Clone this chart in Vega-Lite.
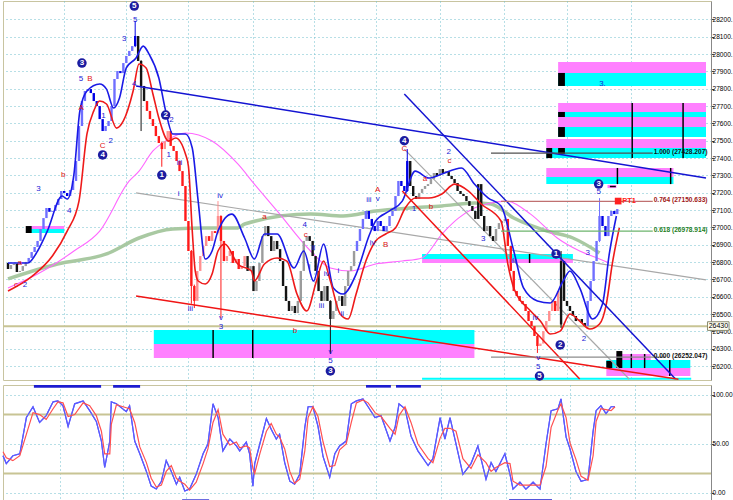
{
"$schema":"https://vega.github.io/schema/vega-lite/v6.json",
"padding":0,
"background":"white",
"spacing":2,
"config":{"view":{"stroke":"#c8c4a0"},"axis":{"labelFont":"Liberation Sans","labelOverlap":false,"labelSeparation":0},"text":{"font":"Liberation Sans"}},
"datasets":{
"candles":[
{"i":0,"o":26795,"c":26760,"t":"k"},{"i":1,"o":26760,"c":26783,"t":"g"},{"i":2,"o":26783,"c":26790,"t":"g"},{"i":3,"o":26790,"c":26743,"t":"k"},{"i":4,"o":26743,"c":26749,"t":"g"},{"i":5,"o":26749,"c":26777,"t":"g"},{"i":6,"o":26777,"c":26801,"t":"g"},{"i":7,"o":26801,"c":26824,"t":"b"},{"i":8,"o":26824,"c":26858,"t":"b"},{"i":9,"o":26858,"c":26887,"t":"b"},
{"i":10,"o":26887,"c":26922,"t":"b"},{"i":11,"o":26922,"c":26991,"t":"b"},{"i":12,"o":26991,"c":27054,"t":"b"},{"i":13,"o":27054,"c":27112,"t":"b"},{"i":14,"o":27112,"c":27090,"t":"B"},{"i":15,"o":27090,"c":27095,"t":"b"},{"i":16,"o":27095,"c":27129,"t":"b"},{"i":17,"o":27129,"c":27164,"t":"b"},{"i":18,"o":27164,"c":27210,"t":"b"},{"i":19,"o":27210,"c":27199,"t":"B"},
{"i":20,"o":27199,"c":27181,"t":"B"},{"i":21,"o":27181,"c":27216,"t":"b"},{"i":22,"o":27216,"c":27268,"t":"b"},{"i":23,"o":27268,"c":27383,"t":"b"},{"i":24,"o":27383,"c":27585,"t":"b"},{"i":25,"o":27585,"c":27729,"t":"b"},{"i":26,"o":27729,"c":27787,"t":"b"},{"i":27,"o":27787,"c":27798,"t":"b"},{"i":28,"o":27798,"c":27775,"t":"B"},{"i":29,"o":27775,"c":27729,"t":"B"},
{"i":30,"o":27729,"c":27700,"t":"B"},{"i":31,"o":27700,"c":27625,"t":"B"},{"i":32,"o":27625,"c":27556,"t":"B"},{"i":33,"o":27556,"c":27585,"t":"b"},{"i":34,"o":27585,"c":27614,"t":"b"},{"i":35,"o":27614,"c":27700,"t":"b"},{"i":36,"o":27700,"c":27856,"t":"b"},{"i":37,"o":27856,"c":27902,"t":"b"},{"i":38,"o":27902,"c":27890,"t":"B"},{"i":39,"o":27890,"c":27948,"t":"b"},
{"i":40,"o":27948,"c":27989,"t":"b"},{"i":41,"o":27989,"c":28018,"t":"b"},{"i":42,"o":28018,"c":28046,"t":"b"},{"i":43,"o":28046,"c":28104,"t":"B","h":28191,"l":28040},{"i":44,"o":28104,"c":27960,"t":"k"},{"i":45,"o":27960,"c":27816,"t":"k","h":27965,"l":27556},{"i":46,"o":27816,"c":27729,"t":"k"},{"i":47,"o":27729,"c":27672,"t":"r"},{"i":48,"o":27672,"c":27625,"t":"r"},{"i":49,"o":27625,"c":27585,"t":"r"},
{"i":50,"o":27585,"c":27527,"t":"r"},{"i":51,"o":27527,"c":27487,"t":"r"},{"i":52,"o":27487,"c":27452,"t":"r","h":27495,"l":27350},{"i":53,"o":27452,"c":27498,"t":"p"},{"i":54,"o":27498,"c":27556,"t":"p"},{"i":55,"o":27556,"c":27470,"t":"r"},{"i":56,"o":27470,"c":27441,"t":"r"},{"i":57,"o":27441,"c":27383,"t":"r"},{"i":58,"o":27383,"c":27325,"t":"r"},{"i":59,"o":27325,"c":27239,"t":"r"},
{"i":60,"o":27239,"c":27037,"t":"r"},{"i":61,"o":27037,"c":26864,"t":"r"},{"i":62,"o":26864,"c":26662,"t":"r","h":26870,"l":26560},{"i":63,"o":26662,"c":26576,"t":"r","h":26670,"l":26535},{"i":64,"o":26576,"c":26749,"t":"p"},{"i":65,"o":26749,"c":26835,"t":"p"},{"i":66,"o":26835,"c":26893,"t":"p"},{"i":67,"o":26893,"c":26950,"t":"p"},{"i":68,"o":26950,"c":26922,"t":"r"},{"i":69,"o":26922,"c":26979,"t":"p"},
{"i":70,"o":26979,"c":26968,"t":"r"},{"i":71,"o":26968,"c":27066,"t":"p","h":27152,"l":26960},{"i":72,"o":27066,"c":26922,"t":"r","h":27070,"l":26478},{"i":73,"o":26922,"c":26806,"t":"r"},{"i":74,"o":26806,"c":26835,"t":"p"},{"i":75,"o":26835,"c":26864,"t":"p"},{"i":76,"o":26864,"c":26795,"t":"r"},{"i":77,"o":26795,"c":26818,"t":"p"},{"i":78,"o":26818,"c":26760,"t":"r"},{"i":79,"o":26760,"c":26777,"t":"p"},
{"i":80,"o":26777,"c":26835,"t":"p"},{"i":81,"o":26835,"c":26749,"t":"k"},{"i":82,"o":26749,"c":26777,"t":"g"},{"i":83,"o":26777,"c":26633,"t":"k"},{"i":84,"o":26633,"c":26691,"t":"g"},{"i":85,"o":26691,"c":26795,"t":"g"},{"i":86,"o":26795,"c":26950,"t":"g"},{"i":87,"o":26950,"c":27008,"t":"g"},{"i":88,"o":27008,"c":26950,"t":"k"},{"i":89,"o":26950,"c":26864,"t":"k"},
{"i":90,"o":26864,"c":26922,"t":"g"},{"i":91,"o":26922,"c":26875,"t":"k"},{"i":92,"o":26875,"c":26806,"t":"k"},{"i":93,"o":26806,"c":26662,"t":"k"},{"i":94,"o":26662,"c":26576,"t":"k"},{"i":95,"o":26576,"c":26518,"t":"k"},{"i":96,"o":26518,"c":26547,"t":"g"},{"i":97,"o":26547,"c":26506,"t":"k"},{"i":98,"o":26506,"c":26576,"t":"g"},{"i":99,"o":26576,"c":26749,"t":"g"},
{"i":100,"o":26749,"c":26922,"t":"g"},{"i":101,"o":26922,"c":26950,"t":"g"},{"i":102,"o":26950,"c":26922,"t":"k"},{"i":103,"o":26922,"c":26835,"t":"k"},{"i":104,"o":26835,"c":26749,"t":"k"},{"i":105,"o":26749,"c":26633,"t":"k"},{"i":106,"o":26633,"c":26576,"t":"k"},{"i":107,"o":26576,"c":26662,"t":"g"},{"i":108,"o":26662,"c":26576,"t":"k"},{"i":109,"o":26576,"c":26472,"t":"k","h":26580,"l":26270},
{"i":110,"o":26472,"c":26518,"t":"g"},{"i":111,"o":26518,"c":26576,"t":"g"},{"i":112,"o":26576,"c":26604,"t":"g"},{"i":113,"o":26604,"c":26547,"t":"k"},{"i":114,"o":26547,"c":26662,"t":"g"},{"i":115,"o":26662,"c":26749,"t":"g"},{"i":116,"o":26749,"c":26777,"t":"g"},{"i":117,"o":26777,"c":26864,"t":"g"},{"i":118,"o":26864,"c":26922,"t":"b"},{"i":119,"o":26922,"c":26991,"t":"b"},
{"i":120,"o":26991,"c":27049,"t":"b"},{"i":121,"o":27049,"c":27095,"t":"b"},{"i":122,"o":27095,"c":27049,"t":"B"},{"i":123,"o":27049,"c":27008,"t":"B"},{"i":124,"o":27008,"c":26979,"t":"B"},{"i":125,"o":26979,"c":27037,"t":"b"},{"i":126,"o":27037,"c":27008,"t":"B"},{"i":127,"o":27008,"c":26979,"t":"B"},{"i":128,"o":26979,"c":27008,"t":"b"},{"i":129,"o":27008,"c":27066,"t":"b"},
{"i":130,"o":27066,"c":27095,"t":"b"},{"i":131,"o":27095,"c":27181,"t":"b"},{"i":132,"o":27181,"c":27268,"t":"b"},{"i":133,"o":27268,"c":27239,"t":"B"},{"i":134,"o":27239,"c":27210,"t":"B"},{"i":135,"o":27210,"c":27383,"t":"B","h":27452,"l":27205},{"i":136,"o":27383,"c":27239,"t":"k"},{"i":137,"o":27239,"c":27181,"t":"k"},{"i":138,"o":27181,"c":27164,"t":"k"},{"i":139,"o":27164,"c":27199,"t":"g"},
{"i":140,"o":27199,"c":27222,"t":"g"},{"i":141,"o":27222,"c":27239,"t":"g"},{"i":142,"o":27239,"c":27250,"t":"g"},{"i":143,"o":27250,"c":27279,"t":"g"},{"i":144,"o":27279,"c":27314,"t":"g"},{"i":145,"o":27314,"c":27297,"t":"k"},{"i":146,"o":27297,"c":27337,"t":"g"},{"i":147,"o":27337,"c":27314,"t":"k"},{"i":148,"o":27314,"c":27325,"t":"g"},{"i":149,"o":27325,"c":27297,"t":"k"},
{"i":150,"o":27297,"c":27279,"t":"k"},{"i":151,"o":27279,"c":27256,"t":"k"},{"i":152,"o":27256,"c":27210,"t":"k"},{"i":153,"o":27210,"c":27193,"t":"k"},{"i":154,"o":27193,"c":27181,"t":"k"},{"i":155,"o":27181,"c":27152,"t":"k"},{"i":156,"o":27152,"c":27124,"t":"k"},{"i":157,"o":27124,"c":27095,"t":"k"},{"i":158,"o":27095,"c":27049,"t":"k"},{"i":159,"o":27049,"c":27250,"t":"k"},
{"i":160,"o":27250,"c":27066,"t":"k"},{"i":161,"o":27066,"c":26979,"t":"k"},{"i":162,"o":26979,"c":27008,"t":"g"},{"i":163,"o":27008,"c":26950,"t":"k"},{"i":164,"o":26950,"c":26922,"t":"k"},{"i":165,"o":26922,"c":26991,"t":"g"},{"i":166,"o":26991,"c":27025,"t":"g"},{"i":167,"o":27025,"c":27037,"t":"g"},{"i":168,"o":27037,"c":27049,"t":"g"},{"i":169,"o":27049,"c":26893,"t":"r"},
{"i":170,"o":26893,"c":26749,"t":"r"},{"i":171,"o":26749,"c":26633,"t":"r"},{"i":172,"o":26633,"c":26604,"t":"r"},{"i":173,"o":26604,"c":26576,"t":"r"},{"i":174,"o":26576,"c":26558,"t":"r"},{"i":175,"o":26558,"c":26518,"t":"r"},{"i":176,"o":26518,"c":26460,"t":"r"},{"i":177,"o":26460,"c":26431,"t":"r"},{"i":178,"o":26431,"c":26374,"t":"r"},{"i":179,"o":26374,"c":26316,"t":"r","h":26380,"l":26276},
{"i":180,"o":26316,"c":26330,"t":"p"},{"i":181,"o":26330,"c":26402,"t":"p"},{"i":182,"o":26402,"c":26460,"t":"p"},{"i":183,"o":26460,"c":26518,"t":"p"},{"i":184,"o":26518,"c":26576,"t":"p"},{"i":185,"o":26576,"c":26518,"t":"r"},{"i":186,"o":26518,"c":26633,"t":"p"},{"i":187,"o":26440,"c":26806,"t":"k","h":26864,"l":26420},{"i":188,"o":26806,"c":26576,"t":"k"},{"i":189,"o":26576,"c":26547,"t":"k"},
{"i":190,"o":26547,"c":26518,"t":"k"},{"i":191,"o":26518,"c":26489,"t":"k"},{"i":192,"o":26489,"c":26460,"t":"k"},{"i":193,"o":26460,"c":26472,"t":"g"},{"i":194,"o":26472,"c":26449,"t":"k"},{"i":195,"o":26449,"c":26431,"t":"k"},{"i":196,"o":26431,"c":26576,"t":"b"},{"i":197,"o":26576,"c":26691,"t":"b"},{"i":198,"o":26691,"c":26806,"t":"b"},{"i":199,"o":26806,"c":26922,"t":"b"},
{"i":200,"o":26922,"c":27066,"t":"b","h":27169,"l":26915},{"i":201,"o":27066,"c":27008,"t":"B"},{"i":202,"o":27008,"c":26950,"t":"B"},{"i":203,"o":26950,"c":27066,"t":"b"},{"i":204,"o":27066,"c":27095,"t":"b"},{"i":205,"o":27095,"c":27077,"t":"B"},{"i":206,"o":27077,"c":27106,"t":"b"}
],
"maB":[{"i":0,"p":26795},{"i":6.7,"p":26795},{"i":10,"p":26864},{"i":13.3,"p":26979},{"i":18.3,"p":27181},{"i":20,"p":27164},{"i":22.3,"p":27308},{"i":24.3,"p":27672},{"i":26.7,"p":27787},{"i":31,"p":27827},{"i":33.3,"p":27798},{"i":35.7,"p":27689},{"i":37.7,"p":27747},{"i":40,"p":27920},{"i":43.3,"p":27977},{"i":45.7,"p":28046},{"i":47.7,"p":28000},{"i":51,"p":27862},{"i":53.3,"p":27672},{"i":55.7,"p":27539},{"i":60,"p":27539},{"i":62.3,"p":27458},{"i":64.3,"p":27152},{"i":66.7,"p":26818},{"i":69,"p":26864},{"i":71,"p":26979},{"i":75.7,"p":27077},{"i":80,"p":26939},{"i":83.3,"p":26818},{"i":86.7,"p":26962},{"i":91,"p":26962},{"i":96.7,"p":26766},{"i":100,"p":26864},{"i":103.3,"p":26691},{"i":106.7,"p":26904},{"i":110,"p":26651},{"i":113.3,"p":26616},{"i":117.7,"p":26731},{"i":122.3,"p":26962},{"i":124.3,"p":27037},{"i":129,"p":27095},{"i":133.3,"p":27152},{"i":137.7,"p":27325},{"i":142.3,"p":27285},{"i":146.7,"p":27308},{"i":153.3,"p":27343},{"i":157.7,"p":27250},{"i":162.3,"p":27170},{"i":166.7,"p":27124},{"i":171,"p":26864},{"i":174.3,"p":26651},{"i":179,"p":26576},{"i":183.3,"p":26564},{"i":187.7,"p":26691},{"i":190,"p":26749},{"i":193.3,"p":26651},{"i":197.7,"p":26472},{"i":201,"p":26558},{"i":203.3,"p":26847},{"i":205.7,"p":27066}],
"maR":[{"i":0,"p":26633},{"i":8.3,"p":26720},{"i":15,"p":26835},{"i":20,"p":26979},{"i":24,"p":27152},{"i":26.7,"p":27539},{"i":29,"p":27672},{"i":31,"p":27729},{"i":33.3,"p":27712},{"i":36.7,"p":27573},{"i":39,"p":27614},{"i":42.3,"p":27787},{"i":44.3,"p":27943},{"i":46.7,"p":27920},{"i":49,"p":27770},{"i":51,"p":27631},{"i":54.3,"p":27498},{"i":56.7,"p":27516},{"i":60,"p":27423},{"i":61,"p":27354},{"i":62.3,"p":26979},{"i":63.3,"p":26749},{"i":64.3,"p":26691},{"i":66.7,"p":26674},{"i":69,"p":26731},{"i":71,"p":26864},{"i":73.3,"p":26904},{"i":77.7,"p":26789},{"i":82.3,"p":26749},{"i":83.3,"p":26691},{"i":86.7,"p":26789},{"i":91,"p":26824},{"i":94.3,"p":26806},{"i":97.7,"p":26616},{"i":101,"p":26518},{"i":104.3,"p":26691},{"i":106.7,"p":26806},{"i":109,"p":26691},{"i":112.3,"p":26501},{"i":115,"p":26472},{"i":117.7,"p":26616},{"i":121,"p":26806},{"i":124.3,"p":26922},{"i":127.7,"p":26962},{"i":131,"p":26997},{"i":134.3,"p":27112},{"i":137.7,"p":27170},{"i":142.3,"p":27170},{"i":146.7,"p":27193},{"i":151,"p":27250},{"i":155.7,"p":27210},{"i":160,"p":27135},{"i":166.7,"p":27037},{"i":169,"p":26789},{"i":171,"p":26651},{"i":176.7,"p":26518},{"i":180,"p":26460},{"i":183.3,"p":26385},{"i":186.7,"p":26402},{"i":190,"p":26501},{"i":193.3,"p":26460},{"i":196.7,"p":26414},{"i":200,"p":26443},{"i":202.3,"p":26558},{"i":204.3,"p":26789},{"i":206.7,"p":26997}],
"maP":[{"i":0,"p":26651},{"i":10,"p":26731},{"i":22.3,"p":26864},{"i":31,"p":26979},{"i":41,"p":27268},{"i":44.3,"p":27325},{"i":49,"p":27441},{"i":53.3,"p":27498},{"i":60,"p":27545},{"i":69,"p":27498},{"i":77.7,"p":27366},{"i":83.3,"p":27250},{"i":91,"p":27095},{"i":102.3,"p":26864},{"i":109,"p":26766},{"i":115.7,"p":26749},{"i":124.3,"p":26789},{"i":133.3,"p":26806},{"i":140,"p":26824},{"i":146.7,"p":26962},{"i":152.3,"p":27054},{"i":157.7,"p":27112},{"i":163.3,"p":27141},{"i":168.3,"p":27152},{"i":176.7,"p":27077},{"i":185.7,"p":26939},{"i":193.3,"p":26864},{"i":200,"p":26818},{"i":203.3,"p":26795}],
"maG":[{"i":0,"p":26703},{"i":16.7,"p":26789},{"i":33.3,"p":26847},{"i":44.3,"p":26939},{"i":55.7,"p":26991},{"i":66.7,"p":26997},{"i":77.7,"p":26997},{"i":80,"p":27020},{"i":102.3,"p":27077},{"i":113.3,"p":27066},{"i":124.3,"p":27095},{"i":135.7,"p":27112},{"i":146.7,"p":27124},{"i":157.7,"p":27141},{"i":163.3,"p":27135},{"i":171,"p":27054},{"i":182.3,"p":26979},{"i":191,"p":26939},{"i":200,"p":26853}],
"zones":[
{"x1":6.7,"x2":19,"p1":27008,"p2":26991,"z":"mg"},{"x1":6.7,"x2":19,"p1":26991,"p2":26968,"z":"cy"},{"x1":6,"x2":8,"p1":27008,"p2":26968,"z":"bk"},
{"x1":49.3,"x2":157.7,"p1":26408,"p2":26328,"z":"cy"},{"x1":49.3,"x2":157.7,"p1":26328,"p2":26247,"z":"mg"},{"x1":69.1,"x2":69.6,"p1":26408,"p2":26247,"z":"bk"},{"x1":82.5,"x2":83,"p1":26408,"p2":26247,"z":"bk"},
{"x1":140,"x2":191,"p1":26847,"p2":26818,"z":"cy"},{"x1":140,"x2":191,"p1":26818,"p2":26795,"z":"mg"},{"x1":176.1,"x2":176.6,"p1":26847,"p2":26795,"z":"bk"},
{"x1":186,"x2":236,"p1":27954,"p2":27891,"z":"mg"},{"x1":186,"x2":236,"p1":27891,"p2":27816,"z":"cy"},{"x1":186,"x2":188.3,"p1":27891,"p2":27816,"z":"bk"},
{"x1":186,"x2":236,"p1":27718,"p2":27666,"z":"mg"},{"x1":186,"x2":236,"p1":27666,"p2":27637,"z":"cy"},{"x1":186,"x2":236,"p1":27637,"p2":27579,"z":"mg"},{"x1":186,"x2":236,"p1":27579,"p2":27522,"z":"cy"},{"x1":186,"x2":188.3,"p1":27666,"p2":27637,"z":"bk"},{"x1":186,"x2":188.3,"p1":27579,"p2":27522,"z":"bk"},
{"x1":182,"x2":236,"p1":27510,"p2":27458,"z":"mg"},{"x1":182,"x2":236,"p1":27458,"p2":27400,"z":"cy"},{"x1":182,"x2":184,"p1":27458,"p2":27400,"z":"bk"},{"x1":186,"x2":188.3,"p1":27458,"p2":27423,"z":"bk"},
{"x1":210.8,"x2":211.3,"p1":27718,"p2":27400,"z":"bk"},{"x1":228,"x2":228.5,"p1":27718,"p2":27400,"z":"bk"},
{"x1":182,"x2":225,"p1":27343,"p2":27291,"z":"mg"},{"x1":182,"x2":225,"p1":27291,"p2":27250,"z":"cy"},{"x1":205.8,"x2":206.3,"p1":27343,"p2":27250,"z":"bk"},{"x1":223.8,"x2":224.3,"p1":27343,"p2":27250,"z":"bk"},{"x1":202.7,"x2":205.7,"p1":27245,"p2":27227,"z":"mg"},{"x1":203.5,"x2":205.5,"p1":27240,"p2":27232,"z":"bk"},
{"x1":205.7,"x2":217.3,"p1":26270,"p2":26235,"z":"mg"},{"x1":202.3,"x2":230.7,"p1":26235,"p2":26189,"z":"cy"},{"x1":202.3,"x2":230.7,"p1":26189,"p2":26143,"z":"mg"},{"x1":205.7,"x2":207.7,"p1":26287,"p2":26189,"z":"bk"},{"x1":202.3,"x2":204.3,"p1":26230,"p2":26189,"z":"bk"},{"x1":210.5,"x2":211,"p1":26270,"p2":26189,"z":"bk"},{"x1":215,"x2":215.5,"p1":26270,"p2":26189,"z":"bk"},{"x1":223.5,"x2":224,"p1":26235,"p2":26143,"z":"bk"},
{"x1":140,"x2":231,"p1":26133,"p2":26121,"z":"cy"}
],
"trend":[
{"x1":43.3,"p1":27816,"x2":236,"p2":27285,"s":"b"},
{"x1":134,"p1":27770,"x2":225.7,"p2":26126,"s":"b"},
{"x1":43.3,"p1":26604,"x2":226.7,"p2":26124,"s":"r"},
{"x1":133.3,"p1":27210,"x2":193.3,"p2":26126,"s":"r"},
{"x1":43.3,"p1":27199,"x2":236,"p2":26697,"s":"g"},
{"x1":134,"p1":27452,"x2":210,"p2":26126,"s":"g"}
],
"fib":[
{"x1":163.3,"x2":218,"tx":218.3,"p":27428.207,"s":"1.000","lbl":"1.000 (27428.207)"},
{"x1":166.7,"x2":218,"tx":218.3,"p":27150.633,"s":"0.764","lbl":"0.764 (27150.633)"},
{"x1":166.7,"x2":218,"tx":218.3,"p":26978.914,"s":"0.618","lbl":"0.618 (26978.914)"},
{"x1":163.3,"x2":222.3,"tx":218.3,"p":26252.047,"s":"0.000","lbl":"0.000 (26252.047)"}
],
"lb":[{"i":24.7,"p":27856,"t":"5"},{"i":32.3,"p":27643,"t":"1"},{"i":34.7,"p":27498,"t":"2"},{"i":39.3,"p":28087,"t":"3"},{"i":43,"p":28196,"t":"5"},{"i":42.7,"p":27827,"t":"4"},{"i":55.3,"p":27620,"t":"2"},{"i":54.3,"p":27418,"t":"1"},{"i":58,"p":27372,"t":"iii"},{"i":57.7,"p":27193,"t":"i"},{"i":71.7,"p":27181,"t":"iv"},{"i":61.7,"p":26530,"t":"iii"},{"i":72,"p":26476,"t":"v"},{"i":72,"p":26424,"t":"3"},{"i":10.3,"p":27222,"t":"3"},{"i":20.7,"p":27095,"t":"4"},{"i":5.7,"p":26668,"t":"2"},{"i":100.3,"p":27012,"t":"4"},{"i":103.3,"p":26881,"t":"ii"},{"i":102,"p":26772,"t":"i"},{"i":106,"p":26547,"t":"iii"},{"i":107.7,"p":26731,"t":"iv"},{"i":111.7,"p":26749,"t":"i"},{"i":113,"p":26501,"t":"ii"},{"i":109,"p":26284,"t":"v"},{"i":109,"p":26232,"t":"5"},{"i":122,"p":27158,"t":"iii"},{"i":125,"p":27162,"t":"v"},{"i":123.3,"p":26910,"t":"iv"},{"i":137.3,"p":27106,"t":"1"},{"i":149,"p":27434,"t":"2"},{"i":160.7,"p":26933,"t":"3"},{"i":171,"p":26806,"t":"iii"},{"i":178.3,"p":26478,"t":"iv"},{"i":179.3,"p":26245,"t":"v"},{"i":179.3,"p":26194,"t":"5"},{"i":194.7,"p":26356,"t":"2"},{"i":196,"p":26853,"t":"3"},{"i":199.7,"p":27204,"t":"5"},{"i":201,"p":27827,"t":"3."}],
"lr":[{"i":27.7,"p":27856,"t":"B"},{"i":24.7,"p":27689,"t":"A"},{"i":32,"p":27470,"t":"C"},{"i":18.7,"p":27302,"t":"b"},{"i":4,"p":26795,"t":"a"},{"i":2.7,"p":26668,"t":"c"},{"i":86.7,"p":27060,"t":"a"},{"i":97,"p":26402,"t":"b"},{"i":100.7,"p":26958,"t":"c"},{"i":125,"p":27214,"t":"A"},{"i":127.7,"p":26899,"t":"B"},{"i":134,"p":27450,"t":"C"},{"i":141,"p":27279,"t":"a"},{"i":143,"p":27118,"t":"b"},{"i":149.3,"p":27382,"t":"c"}],
"circ":[{"i":25,"p":27948,"t":"3"},{"i":32,"p":27418,"t":"4"},{"i":42.7,"p":28277,"t":"5"},{"i":53.3,"p":27648,"t":"2"},{"i":52,"p":27302,"t":"1"},{"i":109,"p":26172,"t":"3"},{"i":134,"p":27500,"t":"4"},{"i":185.3,"p":26847,"t":"1"},{"i":186.7,"p":26322,"t":"2"},{"i":179.7,"p":26143,"t":"5"},{"i":199.7,"p":27250,"t":"3"}],
"pt":[{"i":206.3,"p":27152,"t":"PT1"}],
"cur":[{"i":236.9,"p":26430,"t":"26430"}],
"curbox":[{"x1":236.5,"x2":243.8,"p1":26456,"p2":26406}],
"stoch":[{"i":0,"k":38,"d":42},{"i":1.1,"k":30,"d":36},{"i":3.3,"k":38,"d":33},{"i":5.6,"k":40,"d":38},{"i":7.8,"k":77,"d":60},{"i":10,"k":88,"d":82},{"i":12.2,"k":72,"d":80},{"i":14.4,"k":79,"d":75},{"i":16.7,"k":93,"d":86},{"i":18.3,"k":94,"d":93},{"i":20,"k":89,"d":92},{"i":21.7,"k":68,"d":78},{"i":23.9,"k":91,"d":80},{"i":26.7,"k":94,"d":92},{"i":28.9,"k":84,"d":89},{"i":31.1,"k":73,"d":79},{"i":32.8,"k":53,"d":63},{"i":33.9,"k":26,"d":40},{"i":35.6,"k":53,"d":40},{"i":36.1,"k":93,"d":70},{"i":37.8,"k":91,"d":90},{"i":41.1,"k":83,"d":87},{"i":42.2,"k":89,"d":86},{"i":43.9,"k":53,"d":72},{"i":45.6,"k":40,"d":47},{"i":47.8,"k":22,"d":31},{"i":49.4,"k":7,"d":15},{"i":51.1,"k":4,"d":6},{"i":52.8,"k":12,"d":8},{"i":54.4,"k":33,"d":22},{"i":56.1,"k":22,"d":28},{"i":57.8,"k":9,"d":15},{"i":58.9,"k":16,"d":12},{"i":60.6,"k":2,"d":9},{"i":62.2,"k":4,"d":3},{"i":64.4,"k":19,"d":11},{"i":66.7,"k":40,"d":30},{"i":68.3,"k":50,"d":45},{"i":70,"k":91,"d":72},{"i":71.7,"k":77,"d":85},{"i":73.3,"k":43,"d":60},{"i":75.6,"k":55,"d":49},{"i":77.8,"k":48,"d":52},{"i":78.9,"k":43,"d":46},{"i":81.1,"k":52,"d":48},{"i":82.2,"k":40,"d":46},{"i":83.3,"k":7,"d":25},{"i":83.9,"k":30,"d":20},{"i":85.6,"k":50,"d":40},{"i":87.8,"k":76,"d":63},{"i":89.4,"k":65,"d":71},{"i":91.1,"k":55,"d":60},{"i":92.2,"k":60,"d":57},{"i":93.9,"k":31,"d":45},{"i":95.6,"k":12,"d":22},{"i":97.2,"k":9,"d":10},{"i":98.9,"k":19,"d":14},{"i":100.6,"k":67,"d":43},{"i":101.7,"k":88,"d":77},{"i":103.3,"k":88,"d":88},{"i":105,"k":68,"d":78},{"i":106.7,"k":37,"d":52},{"i":108.9,"k":16,"d":27},{"i":110.6,"k":40,"d":28},{"i":112.2,"k":48,"d":44},{"i":114.4,"k":53,"d":50},{"i":116.1,"k":91,"d":72},{"i":117.8,"k":94,"d":92},{"i":120,"k":96,"d":95},{"i":121.7,"k":88,"d":92},{"i":124,"k":77,"d":82},{"i":126,"k":79,"d":78},{"i":129,"k":53,"d":66},{"i":130.7,"k":67,"d":60},{"i":132,"k":91,"d":79},{"i":134,"k":86,"d":88},{"i":136,"k":58,"d":72},{"i":138.3,"k":43,"d":50},{"i":141.7,"k":28,"d":35},{"i":143.3,"k":35,"d":31},{"i":145.7,"k":77,"d":56},{"i":147.3,"k":55,"d":66},{"i":149,"k":77,"d":66},{"i":151,"k":50,"d":63},{"i":153.3,"k":19,"d":35},{"i":156,"k":30,"d":25},{"i":158.3,"k":48,"d":39},{"i":161,"k":14,"d":31},{"i":162.7,"k":31,"d":22},{"i":164.3,"k":22,"d":26},{"i":167.3,"k":40,"d":31},{"i":169,"k":19,"d":30},{"i":170,"k":4,"d":12},{"i":172.3,"k":11,"d":8},{"i":174.3,"k":4,"d":8},{"i":176.7,"k":11,"d":8},{"i":179,"k":4,"d":8},{"i":181,"k":50,"d":27},{"i":182.7,"k":84,"d":67},{"i":185,"k":86,"d":85},{"i":186,"k":96,"d":91},{"i":187.7,"k":57,"d":77},{"i":189,"k":45,"d":51},{"i":191,"k":22,"d":34},{"i":192.7,"k":12,"d":17},{"i":195,"k":14,"d":13},{"i":196.7,"k":63,"d":38},{"i":197.7,"k":84,"d":73},{"i":199.3,"k":89,"d":86},{"i":201,"k":81,"d":85},{"i":202.7,"k":88,"d":84},{"i":204,"k":88,"d":88}],
"ind":[{"x1":10.3,"x2":32.7,"v1":107.5,"v2":110.2},{"x1":36.7,"x2":45.7,"v1":107.5,"v2":110.2},{"x1":121,"x2":129.3,"v1":107.5,"v2":110.2},{"x1":131,"x2":139.3,"v1":107.5,"v2":110.2},{"x1":59.7,"x2":68.7,"v1":-9.2,"v2":-6.5},{"x1":168.7,"x2":183,"v1":-9.2,"v2":-6.5}]
},
"vconcat":[
{
"width":708,"height":379,
"resolve":{"scale":{"color":"independent"}},
"layer":[
{"data":{"name":"zones"},"mark":{"type":"rect"},
 "encoding":{
  "x":{"field":"x1","type":"quantitative","title":null,"scale":{"domain":[0,236],"nice":false,"zero":false},
       "axis":{"orient":"bottom","values":[19,40,61,82.7,103.3,124.3,146,167.7,189,210.7],"labels":false,"ticks":false,"domain":false,"title":null,"grid":true,"gridDash":[1,3],"gridColor":"#6fbfcc"}},
  "x2":{"field":"x2"},
  "y":{"field":"p1","type":"quantitative","title":null,"scale":{"domain":[26120,28306],"nice":false,"zero":false},
       "axis":{"orient":"right","values":[26200,26300,26400,26500,26600,26700,26800,26900,27000,27100,27200,27300,27400,27500,27600,27700,27800,27900,28000,28100,28200],"format":"d","labelExpr":"datum.label + '.'","labelOverlap":false,"title":null,"grid":true,"gridDash":[1,3],"gridColor":"#6fbfcc","tickSize":3,"tickColor":"#444","domainColor":"#888","labelFontSize":6.6,"labelPadding":-2,"labelColor":"#000"}},
  "y2":{"field":"p2"},
  "color":{"field":"z","type":"nominal","legend":null,"scale":{"domain":["cy","mg","bk"],"range":["#00ffff","#ff80ff","#000000"]}}
 }},
{"data":{"values":[{"p":26430}]},"mark":{"type":"rule","color":"#c8c494","strokeWidth":2},
 "encoding":{"y":{"field":"p","type":"quantitative","title":null,"scale":{"domain":[26120,28306],"nice":false,"zero":false},
  "axis":{"orient":"right","values":[26200,26300,26400,26500,26600,26700,26800,26900,27000,27100,27200,27300,27400,27500,27600,27700,27800,27900,28000,28100,28200],"format":"d","labelExpr":"datum.label + '.'","labelOverlap":false,"title":null,"grid":true,"gridDash":[1,3],"gridColor":"#6fbfcc","tickSize":3,"tickColor":"#444","domainColor":"#888","labelFontSize":6.6,"labelPadding":-2,"labelColor":"#000"}}}},
{"data":{"name":"maG"},"mark":{"type":"line","color":"#a9c9a2","strokeWidth":3.5,"interpolate":"monotone"},
 "encoding":{"x":{"field":"i","type":"quantitative","title":null,"scale":{"domain":[0,236],"nice":false,"zero":false}},
  "y":{"field":"p","type":"quantitative","title":null,"scale":{"domain":[26120,28306],"nice":false,"zero":false},
  "axis":{"orient":"right","values":[26200,26300,26400,26500,26600,26700,26800,26900,27000,27100,27200,27300,27400,27500,27600,27700,27800,27900,28000,28100,28200],"format":"d","labelExpr":"datum.label + '.'","labelOverlap":false,"title":null,"grid":true,"gridDash":[1,3],"gridColor":"#6fbfcc","tickSize":3,"tickColor":"#444","domainColor":"#888","labelFontSize":6.6,"labelPadding":-2,"labelColor":"#000"}}}},
{"data":{"name":"maP"},"mark":{"type":"line","color":"#ff66ff","strokeWidth":1.1,"interpolate":"monotone"},
 "encoding":{"x":{"field":"i","type":"quantitative","title":null,"scale":{"domain":[0,236],"nice":false,"zero":false}},
  "y":{"field":"p","type":"quantitative","title":null,"scale":{"domain":[26120,28306],"nice":false,"zero":false},
  "axis":{"orient":"right","values":[26200,26300,26400,26500,26600,26700,26800,26900,27000,27100,27200,27300,27400,27500,27600,27700,27800,27900,28000,28100,28200],"format":"d","labelExpr":"datum.label + '.'","labelOverlap":false,"title":null,"grid":true,"gridDash":[1,3],"gridColor":"#6fbfcc","tickSize":3,"tickColor":"#444","domainColor":"#888","labelFontSize":6.6,"labelPadding":-2,"labelColor":"#000"}}}},
{"data":{"name":"trend"},"transform":[{"filter":"datum.s == 'g'"}],"mark":{"type":"rule","color":"#a8a8a8","strokeWidth":1.2},
 "encoding":{"x":{"field":"x1","type":"quantitative","title":null,"scale":{"domain":[0,236],"nice":false,"zero":false}},"x2":{"field":"x2"},
  "y":{"field":"p1","type":"quantitative","title":null,"scale":{"domain":[26120,28306],"nice":false,"zero":false},
  "axis":{"orient":"right","values":[26200,26300,26400,26500,26600,26700,26800,26900,27000,27100,27200,27300,27400,27500,27600,27700,27800,27900,28000,28100,28200],"format":"d","labelExpr":"datum.label + '.'","labelOverlap":false,"title":null,"grid":true,"gridDash":[1,3],"gridColor":"#6fbfcc","tickSize":3,"tickColor":"#444","domainColor":"#888","labelFontSize":6.6,"labelPadding":-2,"labelColor":"#000"}},"y2":{"field":"p2"}}},
{"data":{"name":"candles"},"transform":[{"filter":"isValid(datum.h)"}],"mark":{"type":"rule","strokeWidth":1},
 "encoding":{"x":{"field":"i","type":"quantitative","title":null,"scale":{"domain":[0,236],"nice":false,"zero":false}},
  "y":{"field":"l","type":"quantitative","title":null,"scale":{"domain":[26120,28306],"nice":false,"zero":false},
  "axis":{"orient":"right","values":[26200,26300,26400,26500,26600,26700,26800,26900,27000,27100,27200,27300,27400,27500,27600,27700,27800,27900,28000,28100,28200],"format":"d","labelExpr":"datum.label + '.'","labelOverlap":false,"title":null,"grid":true,"gridDash":[1,3],"gridColor":"#6fbfcc","tickSize":3,"tickColor":"#444","domainColor":"#888","labelFontSize":6.6,"labelPadding":-2,"labelColor":"#000"}},"y2":{"field":"h"},
  "color":{"field":"t","type":"nominal","legend":null,"scale":{"domain":["b","B","r","p","k","g"],"range":["#6f6fff","#0000e6","#ff1a1a","#ff9090","#141414","#9c9c9c"]}}}},
{"data":{"name":"candles"},"mark":{"type":"bar","size":2.4},
 "encoding":{"x":{"field":"i","type":"quantitative","title":null,"scale":{"domain":[0,236],"nice":false,"zero":false}},
  "y":{"field":"o","type":"quantitative","title":null,"scale":{"domain":[26120,28306],"nice":false,"zero":false},
  "axis":{"orient":"right","values":[26200,26300,26400,26500,26600,26700,26800,26900,27000,27100,27200,27300,27400,27500,27600,27700,27800,27900,28000,28100,28200],"format":"d","labelExpr":"datum.label + '.'","labelOverlap":false,"title":null,"grid":true,"gridDash":[1,3],"gridColor":"#6fbfcc","tickSize":3,"tickColor":"#444","domainColor":"#888","labelFontSize":6.6,"labelPadding":-2,"labelColor":"#000"}},"y2":{"field":"c"},
  "color":{"field":"t","type":"nominal","legend":null,"scale":{"domain":["b","B","r","p","k","g"],"range":["#6f6fff","#0000e6","#ff1a1a","#ff9090","#141414","#9c9c9c"]}}}},
{"data":{"name":"maB"},"mark":{"type":"line","color":"#1a1ae6","strokeWidth":1.6,"interpolate":"monotone"},
 "encoding":{"x":{"field":"i","type":"quantitative","title":null,"scale":{"domain":[0,236],"nice":false,"zero":false}},
  "y":{"field":"p","type":"quantitative","title":null,"scale":{"domain":[26120,28306],"nice":false,"zero":false},
  "axis":{"orient":"right","values":[26200,26300,26400,26500,26600,26700,26800,26900,27000,27100,27200,27300,27400,27500,27600,27700,27800,27900,28000,28100,28200],"format":"d","labelExpr":"datum.label + '.'","labelOverlap":false,"title":null,"grid":true,"gridDash":[1,3],"gridColor":"#6fbfcc","tickSize":3,"tickColor":"#444","domainColor":"#888","labelFontSize":6.6,"labelPadding":-2,"labelColor":"#000"}}}},
{"data":{"name":"maR"},"mark":{"type":"line","color":"#ee1a1a","strokeWidth":1.6,"interpolate":"monotone"},
 "encoding":{"x":{"field":"i","type":"quantitative","title":null,"scale":{"domain":[0,236],"nice":false,"zero":false}},
  "y":{"field":"p","type":"quantitative","title":null,"scale":{"domain":[26120,28306],"nice":false,"zero":false},
  "axis":{"orient":"right","values":[26200,26300,26400,26500,26600,26700,26800,26900,27000,27100,27200,27300,27400,27500,27600,27700,27800,27900,28000,28100,28200],"format":"d","labelExpr":"datum.label + '.'","labelOverlap":false,"title":null,"grid":true,"gridDash":[1,3],"gridColor":"#6fbfcc","tickSize":3,"tickColor":"#444","domainColor":"#888","labelFontSize":6.6,"labelPadding":-2,"labelColor":"#000"}}}},
{"data":{"name":"trend"},"transform":[{"filter":"datum.s != 'g'"}],"mark":{"type":"rule","strokeWidth":1.5},
 "encoding":{"x":{"field":"x1","type":"quantitative","title":null,"scale":{"domain":[0,236],"nice":false,"zero":false}},"x2":{"field":"x2"},
  "y":{"field":"p1","type":"quantitative","title":null,"scale":{"domain":[26120,28306],"nice":false,"zero":false},
  "axis":{"orient":"right","values":[26200,26300,26400,26500,26600,26700,26800,26900,27000,27100,27200,27300,27400,27500,27600,27700,27800,27900,28000,28100,28200],"format":"d","labelExpr":"datum.label + '.'","labelOverlap":false,"title":null,"grid":true,"gridDash":[1,3],"gridColor":"#6fbfcc","tickSize":3,"tickColor":"#444","domainColor":"#888","labelFontSize":6.6,"labelPadding":-2,"labelColor":"#000"}},"y2":{"field":"p2"},
  "color":{"field":"s","type":"nominal","legend":null,"scale":{"domain":["b","r"],"range":["#1414d2","#f01414"]}}}},
{"data":{"name":"fib"},"mark":{"type":"rule","strokeWidth":1.2},
 "encoding":{"x":{"field":"x1","type":"quantitative","title":null,"scale":{"domain":[0,236],"nice":false,"zero":false}},"x2":{"field":"x2"},
  "y":{"field":"p","type":"quantitative","title":null,"scale":{"domain":[26120,28306],"nice":false,"zero":false},
  "axis":{"orient":"right","values":[26200,26300,26400,26500,26600,26700,26800,26900,27000,27100,27200,27300,27400,27500,27600,27700,27800,27900,28000,28100,28200],"format":"d","labelExpr":"datum.label + '.'","labelOverlap":false,"title":null,"grid":true,"gridDash":[1,3],"gridColor":"#6fbfcc","tickSize":3,"tickColor":"#444","domainColor":"#888","labelFontSize":6.6,"labelPadding":-2,"labelColor":"#000"}},
  "color":{"field":"s","type":"nominal","legend":null,"scale":{"domain":["1.000","0.764","0.618","0.000"],"range":["#505050","#c07070","#6cb46c","#8c8c8c"]}}}},
{"data":{"name":"fib"},"mark":{"type":"text","align":"left","baseline":"middle","fontSize":6.6,"fontWeight":"bold","dy":-1},
 "encoding":{"x":{"field":"tx","type":"quantitative","title":null,"scale":{"domain":[0,236],"nice":false,"zero":false}},
  "y":{"field":"p","type":"quantitative","title":null,"scale":{"domain":[26120,28306],"nice":false,"zero":false},
  "axis":{"orient":"right","values":[26200,26300,26400,26500,26600,26700,26800,26900,27000,27100,27200,27300,27400,27500,27600,27700,27800,27900,28000,28100,28200],"format":"d","labelExpr":"datum.label + '.'","labelOverlap":false,"title":null,"grid":true,"gridDash":[1,3],"gridColor":"#6fbfcc","tickSize":3,"tickColor":"#444","domainColor":"#888","labelFontSize":6.6,"labelPadding":-2,"labelColor":"#000"}},
  "text":{"field":"lbl"},
  "color":{"field":"s","type":"nominal","legend":null,"scale":{"domain":["1.000","0.764","0.618","0.000"],"range":["#111111","#a01818","#1e801e","#111111"]}}}},
{"data":{"name":"lb"},"mark":{"type":"text","color":"#1a1ad6","fontSize":8,"align":"center","baseline":"middle"},
 "encoding":{"x":{"field":"i","type":"quantitative","title":null,"scale":{"domain":[0,236],"nice":false,"zero":false}},
  "y":{"field":"p","type":"quantitative","title":null,"scale":{"domain":[26120,28306],"nice":false,"zero":false},
  "axis":{"orient":"right","values":[26200,26300,26400,26500,26600,26700,26800,26900,27000,27100,27200,27300,27400,27500,27600,27700,27800,27900,28000,28100,28200],"format":"d","labelExpr":"datum.label + '.'","labelOverlap":false,"title":null,"grid":true,"gridDash":[1,3],"gridColor":"#6fbfcc","tickSize":3,"tickColor":"#444","domainColor":"#888","labelFontSize":6.6,"labelPadding":-2,"labelColor":"#000"}},"text":{"field":"t"}}},
{"data":{"name":"lr"},"mark":{"type":"text","color":"#e01414","fontSize":8,"align":"center","baseline":"middle"},
 "encoding":{"x":{"field":"i","type":"quantitative","title":null,"scale":{"domain":[0,236],"nice":false,"zero":false}},
  "y":{"field":"p","type":"quantitative","title":null,"scale":{"domain":[26120,28306],"nice":false,"zero":false},
  "axis":{"orient":"right","values":[26200,26300,26400,26500,26600,26700,26800,26900,27000,27100,27200,27300,27400,27500,27600,27700,27800,27900,28000,28100,28200],"format":"d","labelExpr":"datum.label + '.'","labelOverlap":false,"title":null,"grid":true,"gridDash":[1,3],"gridColor":"#6fbfcc","tickSize":3,"tickColor":"#444","domainColor":"#888","labelFontSize":6.6,"labelPadding":-2,"labelColor":"#000"}},"text":{"field":"t"}}},
{"data":{"name":"circ"},"mark":{"type":"point","filled":true,"shape":"circle","size":90,"color":"#1c1ca0","opacity":1},
 "encoding":{"x":{"field":"i","type":"quantitative","title":null,"scale":{"domain":[0,236],"nice":false,"zero":false}},
  "y":{"field":"p","type":"quantitative","title":null,"scale":{"domain":[26120,28306],"nice":false,"zero":false},
  "axis":{"orient":"right","values":[26200,26300,26400,26500,26600,26700,26800,26900,27000,27100,27200,27300,27400,27500,27600,27700,27800,27900,28000,28100,28200],"format":"d","labelExpr":"datum.label + '.'","labelOverlap":false,"title":null,"grid":true,"gridDash":[1,3],"gridColor":"#6fbfcc","tickSize":3,"tickColor":"#444","domainColor":"#888","labelFontSize":6.6,"labelPadding":-2,"labelColor":"#000"}}}},
{"data":{"name":"circ"},"mark":{"type":"text","color":"white","fontSize":8,"fontWeight":"bold","align":"center","baseline":"middle"},
 "encoding":{"x":{"field":"i","type":"quantitative","title":null,"scale":{"domain":[0,236],"nice":false,"zero":false}},
  "y":{"field":"p","type":"quantitative","title":null,"scale":{"domain":[26120,28306],"nice":false,"zero":false},
  "axis":{"orient":"right","values":[26200,26300,26400,26500,26600,26700,26800,26900,27000,27100,27200,27300,27400,27500,27600,27700,27800,27900,28000,28100,28200],"format":"d","labelExpr":"datum.label + '.'","labelOverlap":false,"title":null,"grid":true,"gridDash":[1,3],"gridColor":"#6fbfcc","tickSize":3,"tickColor":"#444","domainColor":"#888","labelFontSize":6.6,"labelPadding":-2,"labelColor":"#000"}},"text":{"field":"t"}}},
{"data":{"name":"pt"},"mark":{"type":"point","filled":true,"shape":"square","size":45,"color":"#ff2020","opacity":1},
 "encoding":{"x":{"field":"i","type":"quantitative","title":null,"scale":{"domain":[0,236],"nice":false,"zero":false}},
  "y":{"field":"p","type":"quantitative","title":null,"scale":{"domain":[26120,28306],"nice":false,"zero":false},
  "axis":{"orient":"right","values":[26200,26300,26400,26500,26600,26700,26800,26900,27000,27100,27200,27300,27400,27500,27600,27700,27800,27900,28000,28100,28200],"format":"d","labelExpr":"datum.label + '.'","labelOverlap":false,"title":null,"grid":true,"gridDash":[1,3],"gridColor":"#6fbfcc","tickSize":3,"tickColor":"#444","domainColor":"#888","labelFontSize":6.6,"labelPadding":-2,"labelColor":"#000"}}}},
{"data":{"name":"pt"},"mark":{"type":"text","color":"#ff2020","fontSize":7.5,"fontWeight":"bold","align":"left","baseline":"middle","dx":4},
 "encoding":{"x":{"field":"i","type":"quantitative","title":null,"scale":{"domain":[0,236],"nice":false,"zero":false}},
  "y":{"field":"p","type":"quantitative","title":null,"scale":{"domain":[26120,28306],"nice":false,"zero":false},
  "axis":{"orient":"right","values":[26200,26300,26400,26500,26600,26700,26800,26900,27000,27100,27200,27300,27400,27500,27600,27700,27800,27900,28000,28100,28200],"format":"d","labelExpr":"datum.label + '.'","labelOverlap":false,"title":null,"grid":true,"gridDash":[1,3],"gridColor":"#6fbfcc","tickSize":3,"tickColor":"#444","domainColor":"#888","labelFontSize":6.6,"labelPadding":-2,"labelColor":"#000"}},"text":{"field":"t"}}},
{"data":{"name":"curbox"},"mark":{"type":"rect","fill":"#fdfdf0","stroke":"#8a8a70","strokeWidth":1},
 "encoding":{"x":{"field":"x1","type":"quantitative","title":null,"scale":{"domain":[0,236],"nice":false,"zero":false}},"x2":{"field":"x2"},
  "y":{"field":"p1","type":"quantitative","title":null,"scale":{"domain":[26120,28306],"nice":false,"zero":false},
  "axis":{"orient":"right","values":[26200,26300,26400,26500,26600,26700,26800,26900,27000,27100,27200,27300,27400,27500,27600,27700,27800,27900,28000,28100,28200],"format":"d","labelExpr":"datum.label + '.'","labelOverlap":false,"title":null,"grid":true,"gridDash":[1,3],"gridColor":"#6fbfcc","tickSize":3,"tickColor":"#444","domainColor":"#888","labelFontSize":6.6,"labelPadding":-2,"labelColor":"#000"}},"y2":{"field":"p2"}}},
{"data":{"name":"cur"},"mark":{"type":"text","color":"#000","fontSize":7,"align":"left","baseline":"middle"},
 "encoding":{"x":{"field":"i","type":"quantitative","title":null,"scale":{"domain":[0,236],"nice":false,"zero":false}},
  "y":{"field":"p","type":"quantitative","title":null,"scale":{"domain":[26120,28306],"nice":false,"zero":false},
  "axis":{"orient":"right","values":[26200,26300,26400,26500,26600,26700,26800,26900,27000,27100,27200,27300,27400,27500,27600,27700,27800,27900,28000,28100,28200],"format":"d","labelExpr":"datum.label + '.'","labelOverlap":false,"title":null,"grid":true,"gridDash":[1,3],"gridColor":"#6fbfcc","tickSize":3,"tickColor":"#444","domainColor":"#888","labelFontSize":6.6,"labelPadding":-2,"labelColor":"#000"}},"text":{"field":"t"}}}
]
},
{
"width":708,"height":117,
"layer":[
{"data":{"name":"stoch"},"mark":{"type":"line","color":"#5a5aff","strokeWidth":1.2},
 "encoding":{"x":{"field":"i","type":"quantitative","title":null,"scale":{"domain":[0,236],"nice":false,"zero":false},
   "axis":{"orient":"bottom","values":[19,40,61,82.7,103.3,124.3,146,167.7,189,210.7],"labels":false,"ticks":false,"domain":false,"title":null,"grid":true,"gridDash":[1,3],"gridColor":"#6fbfcc"}},
  "y":{"field":"k","type":"quantitative","title":null,"scale":{"domain":[-9.2,110.2],"nice":false,"zero":false},
   "axis":{"orient":"right","values":[0,50,100],"format":".2f","labelOverlap":false,"title":null,"grid":true,"gridDash":[1,3],"gridColor":"#6fbfcc","tickSize":3,"tickColor":"#444","domainColor":"#888","labelFontSize":6.6,"labelPadding":-2,"labelColor":"#000"}}}},
{"data":{"values":[{"v":20},{"v":80}]},"mark":{"type":"rule","color":"#c8c494","strokeWidth":2},
 "encoding":{"y":{"field":"v","type":"quantitative","title":null,"scale":{"domain":[-9.2,110.2],"nice":false,"zero":false}}}},
{"data":{"name":"ind"},"mark":{"type":"rect","color":"#1c1cd0"},
 "encoding":{"x":{"field":"x1","type":"quantitative","title":null,"scale":{"domain":[0,236],"nice":false,"zero":false}},"x2":{"field":"x2"},
  "y":{"field":"v1","type":"quantitative","title":null,"scale":{"domain":[-9.2,110.2],"nice":false,"zero":false}},"y2":{"field":"v2"}}},
{"data":{"name":"stoch"},"mark":{"type":"line","color":"#5a5aff","strokeWidth":1.2},
 "encoding":{"x":{"field":"i","type":"quantitative","title":null,"scale":{"domain":[0,236],"nice":false,"zero":false}},
  "y":{"field":"k","type":"quantitative","title":null,"scale":{"domain":[-9.2,110.2],"nice":false,"zero":false}}}},
{"data":{"name":"stoch"},"mark":{"type":"line","color":"#ff5050","strokeWidth":1.2},
 "encoding":{"x":{"field":"i","type":"quantitative","title":null,"scale":{"domain":[0,236],"nice":false,"zero":false}},
  "y":{"field":"d","type":"quantitative","title":null,"scale":{"domain":[-9.2,110.2],"nice":false,"zero":false}}}}
]
}
]
}
